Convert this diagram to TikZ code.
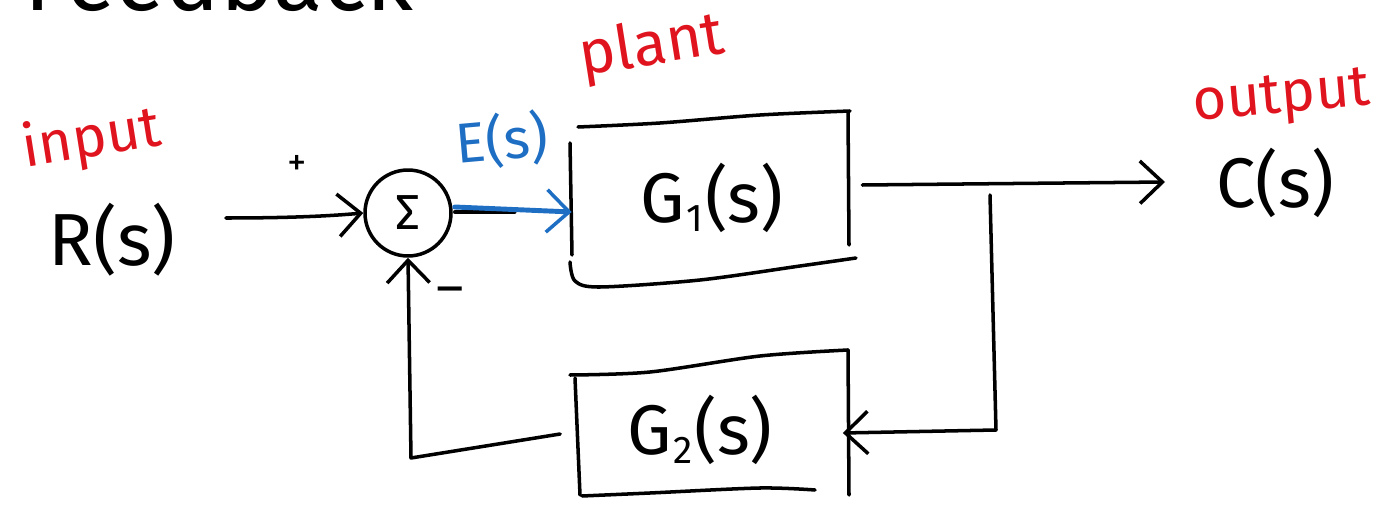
\documentclass[tikz,border=0pt]{standalone}
\usepackage{fontspec}
\setmainfont{Fira Sans}
\usetikzlibrary{arrows.meta,calc}

\definecolor{inkred}{HTML}{E0141E}
\definecolor{inkblue}{HTML}{1E6EC3}
\newcommand{\lowidx}[1]{\kern1pt\raisebox{-0.12em}{\scalebox{0.55}{#1}}\kern1pt}

\tikzset{
  ink/.style={line width=2pt, line cap=round, line join=round},
  barb/.style={-{Straight Barb[length=0.45cm, width=0.85cm, line width=2pt]}},
  sig/.style={font=\fontsize{40}{44}\selectfont, inner sep=0pt},
  note/.style={text=inkred, font=\fontsize{33}{36}\selectfont, inner sep=0pt},
  block/.style={minimum width=5.6cm, minimum height=3cm, inner sep=0pt},
}

\begin{document}
\begin{tikzpicture}[x=0.02cm, y=-0.02cm]
\useasboundingbox (0,0) rectangle (1380,513);
\clip (0,0) rectangle (1380,513);

% heading running off the top edge
\node[anchor=base west, font=\fontsize{52}{60}\selectfont, inner sep=0pt] (title) at (24,11) {Feedback};

% red annotations
\node[note, rotate=9] (lin) at (92,140) {input};
\node[note, rotate=9, font=\fontsize{35}{38}\selectfont] (lplant) at (652,48) {plant};
\node[note, rotate=5] (lout) at (1282,100) {output};

% signals
\node[sig, font=\fontsize{42}{46}\selectfont] (R) at (112,240) {R(s)};
\node[sig] (C) at (1275,183) {C(s)};
\node[sig, text=inkblue, font=\fontsize{32}{36}\selectfont, rotate=5] (E) at (502,140) {E(s)};
\node[font=\fontsize{22}{24}\selectfont] (plus) at (297,165) {+};
\node[font=\fontsize{30}{32}\selectfont] (minus) at (450,296) {\textendash};

% summing junction
\node[ink, draw, circle, minimum size=1.72cm, inner sep=0pt,
      font=\fontsize{28}{30}\selectfont] (sum) at (408,213) {Σ};

% forward block G1
\node[block, sig] (g1) at (712,198) {G\lowidx{1}(s)};
\draw[ink] plot[smooth] coordinates {(578,127) (660,123) (760,115) (850,111)};
\draw[ink] (848,112) -- (849,245);
\draw[ink] (570,143) -- (572,255);
\draw[ink] plot[smooth] coordinates {(570,262) (575,281) (600,287) (700,280) (800,266) (856,258)};

% feedback block G2
\node[block, sig, minimum width=5.46cm, minimum height=2.6cm] (g2) at (700,430) {G\lowidx{2}(s)};
\draw[ink] plot[smooth] coordinates {(570,375) (650,372) (760,356) (848,350)};
\draw[ink] (575,378) -- (580,495);
\draw[ink] (848,350) -- (849,495);
\draw[ink] plot[smooth] coordinates {(582,496) (650,493) (760,488) (815,490)};

% connectors
\coordinate (rs) at (226,218);
\coordinate (cin) at (1165,182);
\coordinate (tap) at (990,195);
\coordinate (cr) at (996,430);
\coordinate (cl) at (411,458);
\draw[ink, barb] (rs) .. controls (290,218) and (330,216) .. (sum.west);
\draw[ink] ($(sum.east)+(2,-1)$) -- ++(60,0);
\draw[ink, barb, inkblue, line width=2.8pt] ($(sum.east)+(2,-6)$) -- (g1.west |- 0,212);
\draw[ink, barb] ($(g1.east)+(10,-13)$) -- (cin);
\draw[ink, barb] (tap) -- (cr) -- ($(g2.east)+(6,3)$);
\draw[ink, barb] ($(g2.west |- 0,434)+(-3,0)$) -- (cl) -- (sum.south);
\end{tikzpicture}
\end{document}
